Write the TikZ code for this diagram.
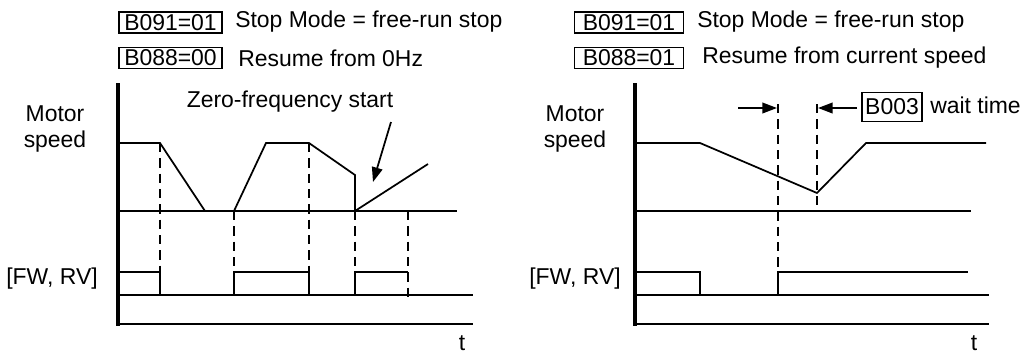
\documentclass[tikz,border=0pt]{standalone}
\usepackage{fontspec}
\setmainfont{Liberation Sans}
\usetikzlibrary{arrows.meta}
\begin{document}
\begin{tikzpicture}[x=0.75pt,y=-0.75pt,
  txt/.style={font=\fontsize{17.2}{19.5}\selectfont, inner sep=0pt},
  param/.style={draw, line width=1.2pt, font=\fontsize{17.2}{19.5}\selectfont, inner sep=0pt, minimum height=16pt},
  axis/.style={line width=2.4pt},
  zero/.style={line width=2.1pt},
  wave/.style={line width=1.3pt},
  guide/.style={line width=1.6pt, dash pattern=on 7pt off 4.5pt},
  ptr/.style={line width=1.3pt, -{Triangle[length=11pt,width=8pt]}}]
\useasboundingbox (0,0) rectangle (1026,354);

% ---------- left panel ----------
\node[param, minimum width=77pt] (b1L) at (170.5,22.5) {B091=01};
\node[txt, anchor=west] (t1L) at (235,22) {Stop Mode = free-run stop};
\node[param, minimum width=77pt] (b2L) at (170.5,58) {B088=00};
\node[txt, anchor=west] (t2L) at (238,58) {Resume from 0Hz};
\node[txt, align=center] (msL) at (55,129) {Motor\\speed};
\node[txt] (fwL) at (52,279) {[FW, RV]};
\node[txt] (zf) at (290,102) {Zero-frequency start};
\node[txt, anchor=base] (tL) at (462,350) {t};

\draw[axis] (118,83) -- (118,326);
\draw[zero] (118,211) -- (457,211);
\draw[wave] (118,143) -- (160,143) -- (205,211);
\draw[wave] (234,211) -- (266,143) -- (309,143) -- (355,175) -- (355,211) -- (428,164);
\coordinate (zfs) at (391,122);
\coordinate (zfe) at (373,182);
\draw[ptr] (zfs) -- (zfe);

\draw[guide] (160,143) -- (160,295);
\draw[guide] (234,211) -- (234,295);
\draw[guide] (309,143) -- (309,295);
\draw[guide] (355,211) -- (355,272);
\draw[guide] (408,211) -- (408,297);

\draw[wave] (118,272) -- (160,272) -- (160,295);
\draw[wave] (234,295) -- (234,272) -- (309,272) -- (309,295);
\draw[wave] (355,295) -- (355,272) -- (408,272);
\draw[wave] (118,295) -- (473,295);
\draw[wave] (118,324) -- (473,324);

% ---------- right panel ----------
\node[param, minimum width=82pt] (b1R) at (629,22.5) {B091=01};
\node[txt, anchor=west] (t1R) at (697,22) {Stop Mode = free-run stop};
\node[param, minimum width=82pt] (b2R) at (629,58) {B088=01};
\node[txt, anchor=west] (t2R) at (702,58) {Resume from current speed};
\node[txt, align=center] (msR) at (575,129) {Motor\\speed};
\node[txt] (fwR) at (575,279) {[FW, RV]};
\node[param, minimum width=45pt, minimum height=22pt] (b3) at (892,107) {B003};
\node[txt, anchor=west] (wt) at (930,105) {wait time};
\node[txt, anchor=base] (tR) at (974,350) {t};

\draw[axis] (635,83) -- (635,326);
\draw[zero] (635,211) -- (971,211);
\draw[wave] (635,143) -- (700,143) -- (817,193) -- (866,143) -- (986,143);

\draw[guide] (778,104) -- (778,295);
\draw[guide] (817,104) -- (817,211);
\coordinate (a1s) at (738,108);
\coordinate (a1e) at (777,108);
\coordinate (a2s) at (857,108);
\coordinate (a2e) at (818,108);
\draw[ptr] (a1s) -- (a1e);
\draw[ptr] (a2s) -- (a2e);

\draw[wave] (635,272) -- (700,272) -- (700,295);
\draw[wave] (778,295) -- (778,272) -- (968,272);
\draw[wave] (635,295) -- (989,295);
\draw[wave] (635,324) -- (989,324);
\end{tikzpicture}
\end{document}
